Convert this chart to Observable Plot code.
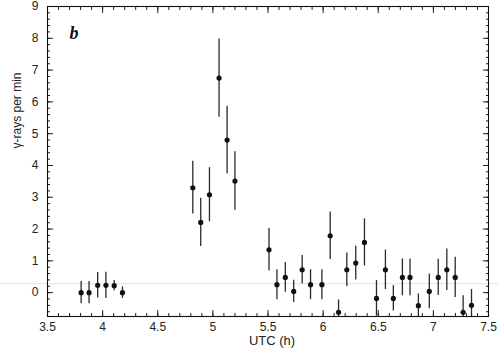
<!DOCTYPE html>
<html>
<head>
<meta charset="utf-8">
<script src="https://cdn.jsdelivr.net/npm/d3@7"></script>
<script src="https://cdn.jsdelivr.net/npm/@observablehq/plot@0.6"></script>
<style>
  html, body { margin: 0; padding: 0; background: #fff; }
  #chart svg { display: block; }
</style>
</head>
<body>
<div id="chart"></div>
<script>
// Time (UTC hours) of each bin
const utc = [
  3.805, 3.877, 3.955, 4.030, 4.105, 4.180,
  4.818, 4.890, 4.969, 5.056, 5.129, 5.200,
  5.509, 5.581, 5.657, 5.733, 5.810, 5.886, 5.989, 6.064, 6.140, 6.215, 6.296, 6.375,
  6.484, 6.565, 6.637, 6.719, 6.788, 6.864, 6.963, 7.044, 7.122, 7.198, 7.270, 7.346
];
// gamma-rays per minute
const rate = [
  0.00, 0.00, 0.23, 0.23, 0.22, 0.00,
  3.30, 2.21, 3.08, 6.75, 4.80, 3.51,
  1.35, 0.25, 0.48, 0.04, 0.72, 0.25, 0.25, 1.79, -0.62, 0.72, 0.93, 1.58,
  -0.18, 0.72, -0.18, 0.48, 0.48, -0.41, 0.04, 0.48, 0.72, 0.48, -0.62, -0.40
];
// one-sigma error
const err = [
  0.35, 0.35, 0.40, 0.41, 0.16, 0.18,
  0.83, 0.76, 0.85, 1.23, 1.06, 0.92,
  0.67, 0.47, 0.47, 0.35, 0.45, 0.47, 0.47, 0.75, 0.39, 0.53, 0.53, 0.74,
  0.56, 0.62, 0.40, 0.58, 0.58, 0.37, 0.55, 0.57, 0.65, 0.63, 0.52, 0.50
];

const xMajor = [3.5, 4, 4.5, 5, 5.5, 6, 6.5, 7, 7.5];
const xLabels = ["3.5", "4", "4.5", "5", "5.5", "6", "6.5", "7", "7.5"];
const xMinor = d3.range(35, 76).map(d => d / 10);
const yMajor = [0, 1, 2, 3, 4, 5, 6, 7, 8, 9];
const yLabels = ["0", "1", "2", "3", "4", "5", "6", "7", "8", "9"];
const yMinor = d3.range(-3, 46).map(d => d / 5);
const scanLine = [0.28];

const data = utc.map((t, i) => ({t, r: rate[i], lo: rate[i] - err[i], hi: rate[i] + err[i]}));

const ink = "#222";
const font = "'Liberation Sans', Arial, sans-serif";

const chart = Plot.plot({
  width: 498,
  height: 356,
  marginLeft: 47,
  marginRight: 10,
  marginTop: 6,
  marginBottom: 40,
  style: {background: "#fff", fontFamily: font, fontSize: "12px", color: ink},
  x: {domain: [3.5, 7.5]},
  y: {domain: [-0.75, 9]},
  marks: [
    Plot.ruleY(scanLine, {stroke: "#e2e2e2", strokeWidth: 1, insetLeft: -47, insetRight: -10}),
    // error bars
    Plot.ruleX(data, {x: "t", y1: "lo", y2: "hi", stroke: "#2a2a2a", strokeWidth: 1.3, clip: true}),
    // points
    Plot.dot(data, {x: "t", y: "r", r: 2.6, fill: "#111", stroke: "none"}),
    // inward ticks, all four sides
    Plot.axisX(xMinor, {anchor: "bottom", tickSize: -3, text: null, stroke: ink, label: null}),
    Plot.axisX(xMajor, {anchor: "bottom", tickSize: -6, text: null, stroke: ink, label: null}),
    Plot.axisX(xMinor, {anchor: "top", tickSize: -3, text: null, stroke: ink, label: null}),
    Plot.axisX(xMajor, {anchor: "top", tickSize: -6, text: null, stroke: ink, label: null}),
    Plot.axisY(yMinor, {anchor: "left", tickSize: -3, text: null, stroke: ink, label: null}),
    Plot.axisY(yMajor, {anchor: "left", tickSize: -6, text: null, stroke: ink, label: null}),
    Plot.axisY(yMinor, {anchor: "right", tickSize: -3, text: null, stroke: ink, label: null}),
    Plot.axisY(yMajor, {anchor: "right", tickSize: -6, text: null, stroke: ink, label: null}),
    // tick labels
    Plot.axisX(xMajor, {anchor: "bottom", tickSize: 0, tickPadding: 6, tickFormat: (d, i) => xLabels[i], fill: ink, label: null, fontSize: 12}),
    Plot.axisY(yMajor, {anchor: "left", tickSize: 0, tickPadding: 9, tickFormat: (d, i) => yLabels[i], fill: ink, label: null, fontSize: 12}),
    // axis titles
    Plot.text(["UTC (h)"], {frameAnchor: "bottom", dx: 4, dy: 28, fill: ink, fontSize: 13}),
    Plot.text(["γ-rays per min"], {frameAnchor: "left", rotate: -90, dx: -30, dy: -13, fill: ink, fontSize: 12}),
    // panel letter
    Plot.text(["b"], {frameAnchor: "top-left", dx: 22, dy: 20, fill: "#111", fontSize: 18, fontStyle: "italic", fontWeight: "bold", fontFamily: "'Liberation Serif', 'Times New Roman', serif"}),
    Plot.frame({stroke: "#111", strokeWidth: 1.1})
  ]
});

document.getElementById("chart").appendChild(chart);
</script>
</body>
</html>
